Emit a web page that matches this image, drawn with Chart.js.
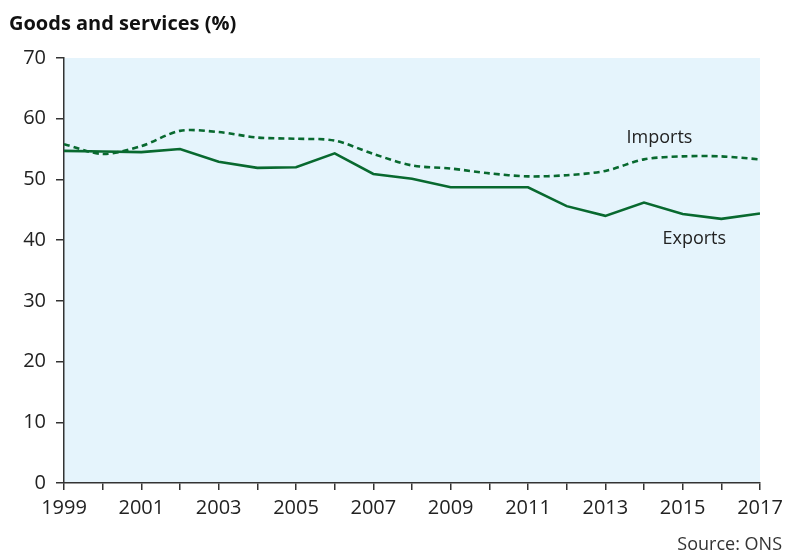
<!DOCTYPE html>
<html>
<head>
<meta charset="utf-8">
<script src="https://cdn.jsdelivr.net/npm/chart.js@4"></script>
<style>
  html, body { margin: 0; padding: 0; background: #fff; }
  #wrap { width: 786px; height: 555px; position: relative; }
</style>
</head>
<body>
<div id="wrap"><canvas id="myChart"></canvas></div>
<script>
const years = [1999, 2000, 2001, 2002, 2003, 2004, 2005, 2006, 2007, 2008,
  2009, 2010, 2011, 2012, 2013, 2014, 2015, 2016, 2017];
const exportsShare = [54.7, 54.6, 54.5, 55.0, 52.9, 51.9, 52.0, 54.3, 50.9, 50.1,
  48.7, 48.7, 48.7, 45.6, 44.0, 46.2, 44.3, 43.5, 44.4];
const importsShare = [55.8, 54.2, 55.5, 58.0, 57.8, 56.9, 56.7, 56.4, 54.2, 52.3,
  51.8, 51.0, 50.5, 50.7, 51.4, 53.3, 53.8, 53.8, 53.3];
const yTicks = [0, 10, 20, 30, 40, 50, 60, 70];

const green = "#08692f";
const axisColor = "#333333";
const fontFamily = "'Open Sans', 'Noto Sans', sans-serif";

// series name labels, placed in data coordinates
const seriesLabels = [
  { text: "Imports", x: 2014.4, y: 56.8 },
  { text: "Exports", x: 2015.3, y: 40.2 },
];

const toPoints = (vals) => vals.map((v, i) => ({ x: years[i], y: v }));

const decor = {
  id: "decor",
  beforeDraw(chart) {
    const { ctx, chartArea } = chart;
    ctx.save();
    ctx.fillStyle = "#e5f4fc";
    ctx.fillRect(chartArea.left, chartArea.top,
      chartArea.right - chartArea.left, chartArea.bottom - chartArea.top);
    ctx.restore();
  },
  afterDraw(chart) {
    const { ctx, scales } = chart;
    ctx.save();
    ctx.fillStyle = "#111";
    ctx.font = "bold 20px " + fontFamily;
    ctx.textAlign = "left";
    ctx.textBaseline = "alphabetic";
    ctx.fillText("Goods and services (%)", 9, 30);

    ctx.font = "18px " + fontFamily;
    ctx.fillStyle = "#222";
    ctx.textAlign = "center";
    ctx.textBaseline = "middle";
    seriesLabels.forEach((l) => {
      ctx.fillText(l.text, scales.x.getPixelForValue(l.x), scales.y.getPixelForValue(l.y));
    });

    ctx.font = "18px " + fontFamily;
    ctx.fillStyle = "#333";
    ctx.textAlign = "right";
    ctx.textBaseline = "alphabetic";
    ctx.fillText("Source: ONS", chart.width - 4, chart.height - 5);
    ctx.restore();
  },
};

const ctx = document.getElementById("myChart").getContext("2d");
const myChart = new Chart(ctx, {
  type: "line",
  data: {
    datasets: [
      {
        label: "Exports",
        data: toPoints(exportsShare),
        borderColor: green,
        borderWidth: 2.6,
        pointRadius: 0,
        tension: 0,
      },
      {
        label: "Imports",
        data: toPoints(importsShare),
        borderColor: green,
        borderWidth: 2.6,
        borderDash: [6, 4],
        pointRadius: 0,
        tension: 0.3,
      },
    ],
  },
  options: {
    responsive: true,
    maintainAspectRatio: false,
    animation: false,
    layout: { padding: { top: 58, right: 26, bottom: 0, left: 0 } },
    plugins: {
      legend: { display: false },
      tooltip: { enabled: false },
    },
    scales: {
      x: {
        type: "linear",
        min: years[0],
        max: years[years.length - 1],
        afterBuildTicks: (scale) => {
          scale.ticks = years.map((y) => ({ value: y }));
        },
        afterFit: (scale) => {
          scale.height = 72;
          scale.paddingRight = 0;
          scale.paddingLeft = 0;
        },
        ticks: {
          callback: (v) => ((v - years[0]) % 2 === 0 ? String(v) : ""),
          autoSkip: false,
          maxRotation: 0,
          padding: 6,
          color: "#222",
          font: { family: fontFamily, size: 20 },
        },
        grid: {
          drawOnChartArea: false,
          drawTicks: true,
          tickLength: 7,
          color: axisColor,
          lineWidth: 1.5,
        },
        border: { color: axisColor, width: 1.5 },
      },
      y: {
        min: 0,
        max: 70,
        afterBuildTicks: (scale) => {
          scale.ticks = yTicks.map((v) => ({ value: v }));
        },
        afterFit: (scale) => {
          scale.width = 64;
        },
        ticks: {
          padding: 10,
          color: "#222",
          font: { family: fontFamily, size: 20 },
        },
        grid: {
          drawOnChartArea: false,
          drawTicks: true,
          tickLength: 8,
          color: axisColor,
          lineWidth: 1.5,
        },
        border: { color: axisColor, width: 1.5 },
      },
    },
  },
  plugins: [decor],
});
</script>
</body>
</html>
